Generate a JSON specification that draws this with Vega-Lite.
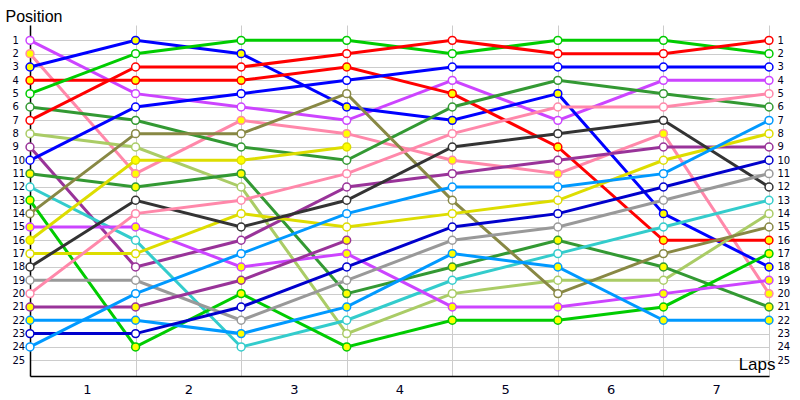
{
  "$schema": "https://vega.github.io/schema/vega-lite/v6.json",
  "autosize": {"type": "none"},
  "padding": {"left": 30, "top": 25, "right": 31, "bottom": 24},
  "width": 739,
  "height": 351,
  "background": "white",
  "config": {
    "view": {"stroke": null},
    "axis": {"labelFont": "DejaVu Sans", "titleFont": "Liberation Sans", "labelColor": "#000022", "titleColor": "#000000", "titleFontWeight": "normal"}
  },
  "data": {
    "values": [
      {"driver": "D1", "team": "violet", "car": "A", "lap": [0, 1, 2, 3, 4, 5, 6, 7], "pos": [1, 5, 6, 7, 4, 7, 4, 4]},
      {"driver": "D2", "team": "pink", "car": "B", "lap": [0, 1, 2, 3, 4, 5, 6, 7], "pos": [2, 11, 7, 8, 10, 11, 8, 20]},
      {"driver": "D3", "team": "blue", "car": "B", "lap": [0, 1, 2, 3, 4, 5, 6, 7], "pos": [3, 1, 2, 6, 7, 5, 14, 18]},
      {"driver": "D4", "team": "red", "car": "B", "lap": [0, 1, 2, 3, 4, 5, 6, 7], "pos": [4, 4, 4, 3, 5, 9, 16, 16]},
      {"driver": "D5", "team": "green", "car": "A", "lap": [0, 1, 2, 3, 4, 5, 6, 7], "pos": [5, 2, 1, 1, 2, 1, 1, 2]},
      {"driver": "D6", "team": "darkgreen", "car": "A", "lap": [0, 1, 2, 3, 4, 5, 6, 7], "pos": [6, 7, 9, 10, 6, 4, 5, 6]},
      {"driver": "D7", "team": "red", "car": "A", "lap": [0, 1, 2, 3, 4, 5, 6, 7], "pos": [7, 3, 3, 2, 1, 2, 2, 1]},
      {"driver": "D8", "team": "lightolive", "car": "A", "lap": [0, 1, 2, 3, 4, 5, 6, 7], "pos": [8, 9, 12, 23, 20, 19, 19, 14]},
      {"driver": "D9", "team": "plum", "car": "A", "lap": [0, 1, 2, 3, 4, 5, 6, 7], "pos": [9, 18, 16, 12, 11, 10, 9, 9]},
      {"driver": "D10", "team": "blue", "car": "A", "lap": [0, 1, 2, 3, 4, 5, 6, 7], "pos": [10, 6, 5, 4, 3, 3, 3, 3]},
      {"driver": "D11", "team": "darkgreen", "car": "B", "lap": [0, 1, 2, 3, 4, 5, 6, 7], "pos": [11, 12, 11, 20, 18, 16, 18, 21]},
      {"driver": "D12", "team": "cyan", "car": "A", "lap": [0, 1, 2, 3, 4, 5, 6, 7], "pos": [12, 16, 24, 22, 19, 17, 15, 13]},
      {"driver": "D13", "team": "green", "car": "B", "lap": [0, 1, 2, 3, 4, 5, 6, 7], "pos": [13, 24, 20, 24, 22, 22, 21, 17]},
      {"driver": "D14", "team": "olive", "car": "A", "lap": [0, 1, 2, 3, 4, 5, 6, 7], "pos": [14, 8, 8, 5, 13, 20, 17, 15]},
      {"driver": "D15", "team": "violet", "car": "B", "lap": [0, 1, 2, 3, 4, 5, 6, 7], "pos": [15, 15, 18, 17, 21, 21, 20, 19]},
      {"driver": "D16", "team": "yellow", "car": "B", "lap": [0, 1, 2, 3], "pos": [16, 10, 10, 9]},
      {"driver": "D17", "team": "yellow", "car": "A", "lap": [0, 1, 2, 3, 4, 5, 6, 7], "pos": [17, 17, 14, 15, 14, 13, 10, 8]},
      {"driver": "D18", "team": "charcoal", "car": "A", "lap": [0, 1, 2, 3, 4, 5, 6, 7], "pos": [18, 13, 15, 13, 9, 8, 7, 12]},
      {"driver": "D19", "team": "gray", "car": "A", "lap": [0, 1, 2, 3, 4, 5, 6, 7], "pos": [19, 19, 22, 19, 16, 15, 13, 11]},
      {"driver": "D20", "team": "pink", "car": "A", "lap": [0, 1, 2, 3, 4, 5, 6, 7], "pos": [20, 14, 13, 11, 8, 6, 6, 5]},
      {"driver": "D21", "team": "plum", "car": "B", "lap": [0, 1, 2, 3], "pos": [21, 21, 19, 16]},
      {"driver": "D22", "team": "skyblue", "car": "B", "lap": [0, 1, 2, 3, 4, 5, 6, 7], "pos": [22, 22, 23, 21, 17, 18, 22, 22]},
      {"driver": "D23", "team": "navy", "car": "A", "lap": [0, 1, 2, 3, 4, 5, 6, 7], "pos": [23, 23, 21, 18, 15, 14, 12, 10]},
      {"driver": "D24", "team": "skyblue", "car": "A", "lap": [0, 1, 2, 3, 4, 5, 6, 7], "pos": [24, 20, 17, 14, 12, 12, 11, 7]}
    ]
  },
  "transform": [{"flatten": ["lap", "pos"]}],
  "encoding": {
    "x": {
      "field": "lap",
      "type": "quantitative",
      "scale": {"domain": [0, 7], "nice": false, "zero": false},
      "axis": {
        "values": [0, 1, 2, 3, 4, 5, 6, 7],
        "labelExpr": "datum.value < 7 ? datum.value + 1 : ''",
        "labelOffset": 52.8,
        "labelPadding": 7,
        "labelFontSize": 13,
        "ticks": false,
        "grid": true,
        "gridColor": "#cccccc",
        "domainColor": "#000000",
        "domainWidth": 1.5,
        "title": "Laps",
        "titleFontSize": 17,
        "titleAlign": "right",
        "titleBaseline": "alphabetic",
        "titleX": 745,
        "titleY": -7
      }
    },
    "y": {
      "field": "pos",
      "type": "quantitative",
      "scale": {"domain": [-0.15, 26.18], "reverse": true, "nice": false, "zero": false}
    },
    "color": {
      "field": "team",
      "type": "nominal",
      "legend": null,
      "scale": {
        "domain": ["violet", "pink", "blue", "red", "green", "darkgreen", "lightolive", "plum", "cyan", "olive", "yellow", "charcoal", "gray", "skyblue", "navy"],
        "range": ["#cc44ff", "#ff88aa", "#0000ff", "#ff0000", "#00cc00", "#339933", "#aacc66", "#993399", "#33cccc", "#888844", "#dddd00", "#333333", "#999999", "#0099ff", "#0000cc"]
      }
    },
    "detail": {"field": "driver"}
  },
  "layer": [
    {
      "mark": {"type": "line", "strokeWidth": 3},
      "encoding": {
        "y": {
          "field": "pos",
          "type": "quantitative",
          "axis": {
            "values": [1, 2, 3, 4, 5, 6, 7, 8, 9, 10, 11, 12, 13, 14, 15, 16, 17, 18, 19, 20, 21, 22, 23, 24, 25],
            "labelAlign": "left",
            "labelPadding": 18,
            "labelFontSize": 10,
            "ticks": false,
            "grid": true,
            "gridColor": "#cccccc",
            "domainColor": "#000000",
            "domainWidth": 1.5,
            "title": "Position",
            "titleFontSize": 16,
            "titleAngle": 0,
            "titleAlign": "left",
            "titleBaseline": "alphabetic",
            "titleX": -25,
            "titleY": -4
          }
        }
      }
    },
    {
      "mark": {"type": "point", "shape": "circle", "filled": false, "size": 62, "strokeWidth": 1.5, "opacity": 1},
      "encoding": {
        "y": {
          "field": "pos",
          "type": "quantitative",
          "axis": {
            "orient": "right",
            "values": [1, 2, 3, 4, 5, 6, 7, 8, 9, 10, 11, 12, 13, 14, 15, 16, 17, 18, 19, 20, 21, 22, 23, 24, 25],
            "labelAlign": "left",
            "labelPadding": 8,
            "labelFontSize": 10,
            "ticks": false,
            "grid": false,
            "domain": false,
            "title": null
          }
        },
        "fill": {
          "field": "car",
          "type": "nominal",
          "legend": null,
          "scale": {"domain": ["A", "B"], "range": ["#ffffff", "#ffff00"]}
        }
      }
    }
  ],
  "resolve": {"axis": {"y": "independent"}}
}
